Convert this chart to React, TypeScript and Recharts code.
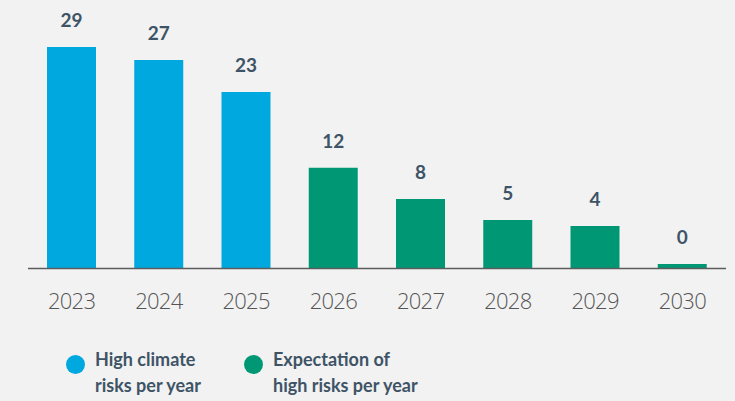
import React from "react";
import { BarChart, Bar, XAxis, YAxis, LabelList, Legend } from "recharts";

const years = ["2023", "2024", "2025", "2026", "2027", "2028", "2029", "2030"];
// bar heights (in label units)
const observedValues = [29, 27.3, 23.1, null, null, null, null, null];
const expectedValues = [null, null, null, 13.2, 9.1, 6.35, 5.56, 0.59];
// printed value labels
const observedLabels = ["29", "27", "23", null, null, null, null, null];
const expectedLabels = [null, null, null, "12", "8", "5", "4", "0"];
const legendLabels = [
  ["High climate", "risks per year"],
  ["Expectation of", "high risks per year"],
];

const BLUE = "#00a8e0";
const GREEN = "#009874";
const LABEL = "#3e5466";

const data = years.map((y, i) => ({
  year: y,
  observed: observedValues[i],
  expected: expectedValues[i],
  observedLabel: observedLabels[i],
  expectedLabel: expectedLabels[i],
}));

const Tick = (props: any) => {
  const { x, y, payload } = props;
  return (
    <text
      x={x}
      y={y + 40}
      textAnchor="middle"
      fill="#555555"
      fontFamily="'Open Sans', sans-serif"
      fontWeight={300}
      fontSize={22}
      letterSpacing={-0.8}
    >
      {payload.value}
    </text>
  );
};

const LegendContent = () => {
  const colors = [BLUE, GREEN];
  const lefts = [66, 244];
  return (
    <div style={{ position: "relative", width: 735, height: 0 }}>
      {legendLabels.map((lines, i) => (
        <div key={i} style={{ position: "absolute", left: lefts[i], top: 0 }}>
          <div
            style={{
              position: "absolute",
              left: 0,
              top: 9,
              width: 19,
              height: 19,
              borderRadius: "50%",
              background: colors[i],
            }}
          />
          <div
            style={{
              position: "absolute",
              left: 29,
              top: 0,
              whiteSpace: "nowrap",
              fontFamily: "Lato, sans-serif",
              fontWeight: 700,
              fontSize: 18,
              lineHeight: "26px",
              color: LABEL,
            }}
          >
            {lines[0]}
            <br />
            {lines[1]}
          </div>
        </div>
      ))}
    </div>
  );
};

export default function App() {
  return (
    <div
      style={{
        position: "fixed",
        left: 0,
        top: 0,
        width: 735,
        height: 401,
        background: "#f2f2f2",
        overflow: "hidden",
      }}
    >
      <BarChart
        width={735}
        height={401}
        data={data}
        margin={{ top: 47, right: 9, left: 28, bottom: 102.5 }}
      >
        <YAxis hide domain={[0, 29]} />
        <XAxis
          dataKey="year"
          height={30}
          tickLine={false}
          tickSize={0}
          tickMargin={0}
          axisLine={{ stroke: "#5c5c5c", strokeWidth: 1.5 }}
          tick={<Tick />}
          interval={0}
        />
        <Legend
          verticalAlign="bottom"
          wrapperStyle={{ left: 0, top: 346, width: 735, height: 0 }}
          content={<LegendContent />}
        />
        <Bar dataKey="observed" stackId="a" fill={BLUE} barSize={49} isAnimationActive={false}>
          <LabelList
            dataKey="observedLabel"
            position="top"
            offset={20}
            fill={LABEL}
            fontFamily="Lato, sans-serif"
            fontWeight={700}
            fontSize={19}
          />
        </Bar>
        <Bar dataKey="expected" stackId="a" fill={GREEN} barSize={49} isAnimationActive={false}>
          <LabelList
            dataKey="expectedLabel"
            position="top"
            offset={20}
            fill={LABEL}
            fontFamily="Lato, sans-serif"
            fontWeight={700}
            fontSize={19}
          />
        </Bar>
      </BarChart>
    </div>
  );
}
